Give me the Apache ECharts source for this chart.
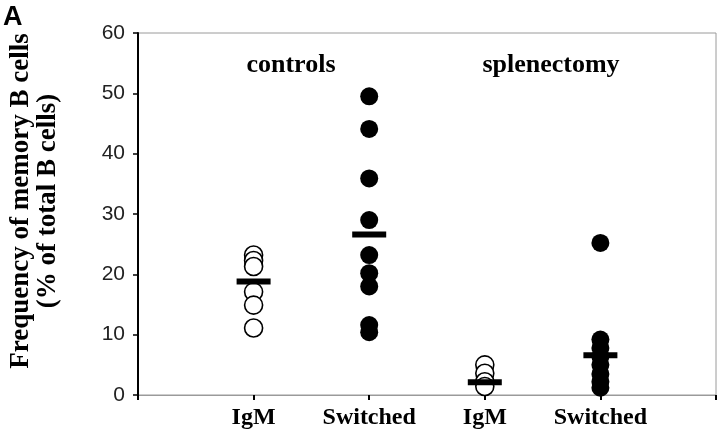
<!DOCTYPE html>
<html>
<head>
<meta charset="utf-8">
<script src="https://cdn.jsdelivr.net/npm/echarts@6/dist/echarts.min.js"></script>
<style>
  html, body { margin: 0; padding: 0; background: #fff; }
  #chart { width: 720px; height: 442px; }
</style>
</head>
<body>
<div id="chart"></div>
<script>
// group labels on the x axis (positions 1..4)
const categories = ['IgM', 'Switched', 'IgM', 'Switched']
const yTicks = [0, 10, 20, 30, 40, 50, 60]

// individual values, % of total B cells
const controlsIgM = [23.2, 22.3, 21.3, 17.1, 14.9, 11.1]
const controlsSwitched = [49.5, 44.1, 35.9, 29.0, 23.2, 20.2, 18.0, 11.6, 10.4]
const splenIgM = [5.0, 3.6, 2.2, 1.4]
const splenSwitched = [25.2, 9.2, 7.8, 6.4, 5.0, 3.5, 2.2, 1.2]
// mean bars
const means = [18.8, 26.6, 2.1, 6.6]

const serif = '"Liberation Serif", "DejaVu Serif", serif'
const sans = '"Liberation Sans", Arial, sans-serif'

function pts(x, arr) {
  return arr.map(v => [x, v])
}

const chart = echarts.init(document.getElementById('chart'))

let option = {
  animation: false,
  backgroundColor: '#fff',
  grid: {
    left: 137,
    right: 4,
    top: 33,
    bottom: 47,
    show: true,
    borderColor: '#9a9a9a',
    borderWidth: 1,
  },
  xAxis: {
    type: 'value',
    min: 0,
    max: 5,
    interval: 1,
    axisLine: { show: true, lineStyle: { color: '#9a9a9a', width: 1 } },
    axisTick: { show: true, length: 5, lineStyle: { color: '#000', width: 2 } },
    splitLine: { show: false },
    axisLabel: {
      margin: 11,
      fontFamily: serif,
      fontWeight: 'bold',
      fontSize: 24,
      color: '#000',
      formatter: function (v) {
        return categories[v - 1] || ''
      },
    },
  },
  yAxis: {
    type: 'value',
    min: yTicks[0],
    max: yTicks[yTicks.length - 1],
    interval: 10,
    axisLine: { show: true, lineStyle: { color: '#000', width: 2 } },
    axisTick: { show: true, length: 5, lineStyle: { color: '#000', width: 1.5 } },
    splitLine: { show: false },
    axisLabel: {
      margin: 13,
      fontFamily: sans,
      fontSize: 21,
      color: '#222',
    },
    name: 'Frequency of memory B cells\n(% of total B cells)',
    nameLocation: 'middle',
    nameRotate: 90,
    nameGap: 76,
    nameTextStyle: {
      fontFamily: serif,
      fontWeight: 'bold',
      fontSize: 27,
      lineHeight: 27,
      color: '#000',
      padding: [0, 0, 0, 26],
    },
  },
  graphic: [
    {
      type: 'text',
      left: 3,
      top: 4,
      style: { text: 'A', fontFamily: sans, fontWeight: 'bold', fontSize: 27, fill: '#000' },
    },
    {
      type: 'text',
      x: 291,
      y: 65,
      style: {
        text: 'controls', fontFamily: serif, fontWeight: 'bold', fontSize: 26,
        fill: '#000', align: 'center', verticalAlign: 'middle',
      },
    },
    {
      type: 'text',
      x: 551,
      y: 65,
      style: {
        text: 'splenectomy', fontFamily: serif, fontWeight: 'bold', fontSize: 26,
        fill: '#000', align: 'center', verticalAlign: 'middle',
      },
    },
  ],
  series: [
    {
      type: 'scatter',
      symbolSize: 18,
      itemStyle: { color: '#fff', borderColor: '#000', borderWidth: 1.6, opacity: 1 },
      data: pts(1, controlsIgM).concat(pts(3, splenIgM)),
      z: 2,
    },
    {
      type: 'scatter',
      symbolSize: 18,
      itemStyle: { color: '#000', opacity: 1 },
      data: pts(2, controlsSwitched).concat(pts(4, splenSwitched)),
      z: 2,
    },
    {
      type: 'scatter',
      symbol: 'rect',
      symbolSize: [34, 6],
      itemStyle: { color: '#000', opacity: 1 },
      data: means.map((v, i) => [i + 1, v]),
      z: 3,
    },
  ],
}

chart.setOption(option)
</script>
</body>
</html>
